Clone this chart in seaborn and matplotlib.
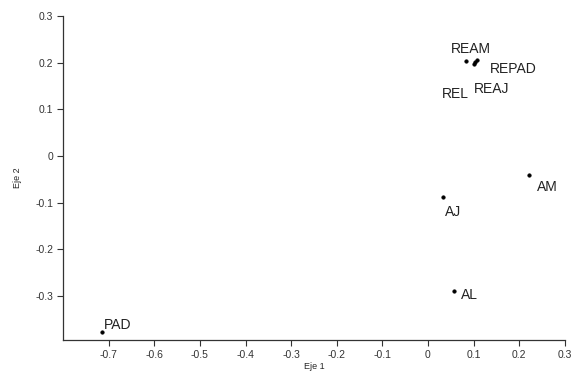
import matplotlib
matplotlib.use("Agg")
import matplotlib.pyplot as plt
import seaborn as sns
import pandas as pd

# Category labels and coordinates
labels = ["PAD", "AL", "AJ", "AM", "REAM", "REPAD", "REAJ", "REL"]
eje1 = [-0.715, 0.057, 0.033, 0.221, 0.084, 0.108, 0.100, 0.103]
eje2 = [-0.378, -0.289, -0.089, -0.041, 0.203, 0.205, 0.198, 0.201]

df = pd.DataFrame({"label": labels, "Eje 1": eje1, "Eje 2": eje2})

# label offsets in pixels (text left edge / vertical centre)
offsets = {
    "PAD": (2, 7), "AL": (7, -4), "AJ": (2, -15), "AM": (8, -12),
    "REAM": (-15, 12), "REPAD": (13, -9), "REAJ": (0, -25), "REL": (-33, -32),
}

sns.set_style("ticks")
plt.rcParams["font.family"] = ["Liberation Sans", "DejaVu Sans"]

fig = plt.figure(figsize=(5.74, 3.73), dpi=100)
ax = fig.add_axes([0.11, 0.0885, 0.874, 0.868])
sns.scatterplot(data=df, x="Eje 1", y="Eje 2", color="black", s=7,
                edgecolor="black", linewidth=0.3, ax=ax)

for _, r in df.iterrows():
    dx, dy = offsets[r["label"]]
    ax.annotate(r["label"], (r["Eje 1"], r["Eje 2"]), xytext=(dx, dy),
                textcoords="offset pixels", ha="left", va="center",
                fontsize=10, color="#222222")

ax.set_xlim(-0.8, 0.3)
ax.set_ylim(-0.395, 0.3)
ax.set_xticks([-0.7, -0.6, -0.5, -0.4, -0.3, -0.2, -0.1, 0, 0.1, 0.2, 0.3])
ax.set_xticklabels(["-0.7", "-0.6", "-0.5", "-0.4", "-0.3", "-0.2", "-0.1", "0", "0.1", "0.2", "0.3"])
ax.set_yticks([-0.3, -0.2, -0.1, 0, 0.1, 0.2, 0.3])
ax.set_yticklabels(["-0.3", "-0.2", "-0.1", "0", "0.1", "0.2", "0.3"])
ax.tick_params(labelsize=7.5, colors="#333333", length=4, width=0.8, pad=3)
sns.despine(ax=ax)
for s in ["left", "bottom"]:
    ax.spines[s].set_color("#333333")
    ax.spines[s].set_linewidth(0.9)
ax.set_xlabel("Eje 1", fontsize=6.5, labelpad=2)
ax.set_ylabel("Eje 2", fontsize=6.5, labelpad=10)

fig.savefig("out.png", dpi=100)
